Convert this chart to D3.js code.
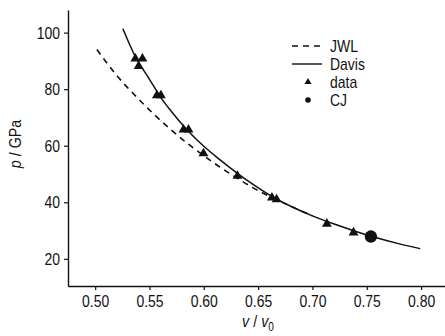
<!DOCTYPE html>
<html>
<head>
<meta charset="utf-8">
<script src="https://cdn.jsdelivr.net/npm/d3@7"></script>
<style>
  body { margin: 0; background: #fff; }
  svg text { font-family: "Liberation Sans Narrow", "Liberation Sans", Arial, sans-serif; fill: #111; }
</style>
</head>
<body>
<div id="chart"></div>
<script>
// measured data (v/v0, p in GPa)
const dataV = [0.537, 0.5435, 0.540, 0.5568, 0.5605, 0.5813, 0.5859, 0.5997, 0.6310, 0.6627, 0.6670, 0.7133, 0.7378];
const dataP = [90.8, 90.8, 88.1, 77.8, 77.8, 65.7, 65.7, 57.3, 49.3, 41.6, 41.0, 32.4, 29.3];

// CJ point
const cjV = [0.7538];
const cjP = [27.9];

// Davis curve
const davisV = [0.5255, 0.537, 0.55, 0.56, 0.57, 0.583, 0.60, 0.615, 0.63, 0.645, 0.663, 0.68, 0.70, 0.72, 0.74, 0.755, 0.78, 0.7992];
const davisP = [101.4, 91.5, 83.5, 77.3, 72.2, 66.3, 59.8, 55.0, 50.5, 46.4, 42.0, 38.6, 35.2, 32.3, 29.7, 27.9, 25.3, 23.6];

// JWL curve
const jwlV = [0.5016, 0.52, 0.54, 0.555, 0.57, 0.585, 0.60, 0.615, 0.63, 0.645, 0.66, 0.68, 0.70];
const jwlP = [94.0, 84.8, 76.5, 70.8, 65.6, 60.8, 56.5, 52.4, 48.7, 45.2, 42.2, 38.6, 35.2];

const xTicks = [0.50, 0.55, 0.60, 0.65, 0.70, 0.75, 0.80];
const yTicks = [20, 40, 60, 80, 100];

const W = 445, H = 336;
const svg = d3.select("#chart").append("svg")
  .attr("width", W).attr("height", H);

const x = d3.scaleLinear().domain([0.475, 0.822]).range([68, 445]);
const y = d3.scaleLinear().domain([10.4, 108]).range([286, 10]);

// axes
const xAxis = svg.append("g")
  .attr("transform", `translate(0,${y(10.4)})`)
  .call(d3.axisBottom(x).tickValues(xTicks).tickFormat(d3.format(".2f")).tickSizeInner(4).tickSizeOuter(0).tickPadding(5));
const yAxis = svg.append("g")
  .attr("transform", `translate(${x(0.475)},0)`)
  .call(d3.axisLeft(y).tickValues(yTicks).tickSizeInner(4).tickSizeOuter(0).tickPadding(4));

[xAxis, yAxis].forEach(a => {
  a.select(".domain").attr("stroke", "#111").attr("stroke-width", 1.4);
  a.selectAll(".tick line").attr("stroke", "#111").attr("stroke-width", 1.2);
  a.selectAll(".tick text").attr("font-size", 17).attr("font-family", null).attr("fill", "#111")
    .classed("squeeze", true);
});

// axis titles (narrow look via a horizontal scale on the whole label)
const yt = svg.append("text")
  .attr("transform", `translate(21,${144}) rotate(-90) scale(0.84,1)`)
  .attr("text-anchor", "middle")
  .attr("font-size", 17);
yt.append("tspan").attr("font-style", "italic").text("p");
yt.append("tspan").text(" / GPa");

const xt = svg.append("text")
  .attr("transform", "translate(258,327) scale(0.84,1)")
  .attr("text-anchor", "middle")
  .attr("font-size", 17);
xt.append("tspan").attr("font-style", "italic").text("v");
xt.append("tspan").text(" / ");
xt.append("tspan").attr("font-style", "italic").text("v");
xt.append("tspan").attr("font-size", 12).attr("dy", 4).text("0");

// curves
const line = d3.line().x(d => x(d[0])).y(d => y(d[1])).curve(d3.curveMonotoneX);

svg.append("path")
  .datum(d3.zip(jwlV, jwlP))
  .attr("d", line)
  .attr("fill", "none").attr("stroke", "#111").attr("stroke-width", 1.6)
  .attr("stroke-dasharray", "6,5");

svg.append("path")
  .datum(d3.zip(davisV, davisP))
  .attr("d", line)
  .attr("fill", "none").attr("stroke", "#111").attr("stroke-width", 1.5);

// data triangles
const tri = d3.symbol().type(d3.symbolTriangle).size(42);
svg.append("g").selectAll("path")
  .data(d3.zip(dataV, dataP))
  .join("path")
  .attr("d", tri)
  .attr("transform", d => `translate(${x(d[0])},${y(d[1])})`)
  .attr("fill", "#111");

// CJ point
svg.append("g").selectAll("circle")
  .data(d3.zip(cjV, cjP))
  .join("circle")
  .attr("cx", d => x(d[0])).attr("cy", d => y(d[1]))
  .attr("r", 6.2).attr("fill", "#111");

// legend
const legend = svg.append("g").attr("transform", "translate(292,0)");
const items = ["JWL", "Davis", "data", "CJ"];
const rowY = [46, 64, 82, 100];
items.forEach((name, i) => {
  const g = legend.append("g").attr("transform", `translate(0,${rowY[i]})`);
  if (name === "JWL") {
    g.append("line").attr("x1", 0).attr("x2", 30).attr("y1", 0).attr("y2", 0)
      .attr("stroke", "#111").attr("stroke-width", 1.4).attr("stroke-dasharray", "6,5");
  } else if (name === "Davis") {
    g.append("line").attr("x1", 0).attr("x2", 30).attr("y1", 0).attr("y2", 0)
      .attr("stroke", "#111").attr("stroke-width", 1.4);
  } else if (name === "data") {
    g.append("path").attr("d", d3.symbol().type(d3.symbolTriangle).size(22))
      .attr("transform", "translate(16,0)").attr("fill", "#111");
  } else {
    g.append("circle").attr("cx", 16).attr("cy", 0).attr("r", 2.8).attr("fill", "#111");
  }
  g.append("text").attr("class", "squeeze").attr("x", 38).attr("y", 0).attr("dy", "0.35em")
    .attr("font-size", 17).text(name);
});

// the original font is a narrow sans; squeeze the single-run labels to match
svg.selectAll("text.squeeze").each(function () {
  const w = this.getComputedTextLength();
  d3.select(this).attr("textLength", w * 0.82).attr("lengthAdjust", "spacingAndGlyphs");
});
</script>
</body>
</html>
